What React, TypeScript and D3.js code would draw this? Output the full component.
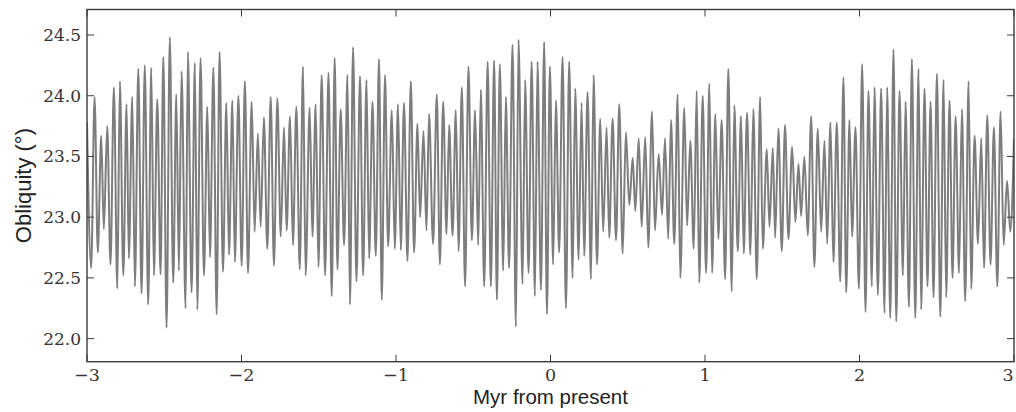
import React from "react";
import * as d3 from "d3";

// Times of successive obliquity maxima/minima (kyr relative to present)
const timesKyr: number[] = [
  -3000,-2973,-2951,-2930,-2908,-2891,-2869,-2848,-2826,-2804,
  -2787,-2765,-2744,-2729,-2707,-2690,-2668,-2647,-2626,-2604,
  -2584,-2567,-2545,-2524,-2506,-2485,-2464,-2442,-2422,-2405,
  -2388,-2362,-2347,-2323,-2302,-2286,-2265,-2243,-2221,-2204,
  -2182,-2161,-2142,-2120,-2098,-2081,-2059,-2043,-2020,-1999,
  -1978,-1958,-1934,-1915,-1894,-1876,-1855,-1833,-1811,-1790,
  -1768,-1746,-1725,-1708,-1686,-1667,-1645,-1623,-1602,-1585,
  -1559,-1541,-1520,-1502,-1481,-1459,-1437,-1416,-1397,-1379,
  -1358,-1336,-1314,-1298,-1278,-1256,-1233,-1213,-1191,-1174,
  -1152,-1131,-1110,-1092,-1071,-1051,-1027,-1008,-987,-969,
  -948,-926,-904,-883,-861,-844,-822,-803,-786,-760,
  -736,-716,-695,-673,-656,-634,-613,-595,-574,-553,
  -531,-509,-488,-468,-451,-429,-407,-386,-365,-347,
  -328,-306,-289,-268,-246,-224,-207,-181,-164,-142,
  -122,-101,-84,-62,-41,-23,-4,17,35,56,
  78,100,121,143,160,182,201,218,240,262,
  279,301,322,341,363,380,402,424,445,467,
  488,510,532,549,571,590,613,633,657,676,
  700,722,741,762,780,801,823,840,866,884,
  905,927,946,963,985,1007,1028,1046,1067,1086,
  1108,1130,1151,1173,1190,1212,1233,1251,1272,1294,
  1313,1335,1357,1374,1400,1417,1439,1454,1475,1497,
  1518,1540,1564,1585,1605,1622,1643,1665,1687,1708,
  1730,1752,1773,1791,1812,1831,1853,1875,1896,1914,
  1935,1952,1974,1996,2017,2039,2058,2080,2097,2119,
  2140,2162,2179,2199,2220,2238,2259,2281,2298,2320,
  2339,2361,2382,2399,2421,2440,2460,2479,2501,2523,
  2544,2561,2583,2602,2622,2644,2663,2684,2706,2723,
  2745,2767,2788,2806,2827,2848,2870,2892,2913,2933,
  2955,2976,3000,
];

// Obliquity (degrees) at those times
const obliquityDeg: number[] = [
  23.78,22.58,23.99,22.71,23.67,22.90,23.75,22.61,24.07,22.41,
  24.12,22.52,23.93,22.66,23.99,22.43,24.22,22.37,24.25,22.28,
  24.23,22.52,23.97,22.53,24.32,22.09,24.48,22.46,24.01,22.56,
  24.20,22.25,24.36,22.38,24.27,22.24,24.31,22.52,23.91,22.67,
  24.23,22.20,24.36,22.55,23.94,22.69,23.96,22.63,24.00,22.60,
  24.12,22.54,23.95,22.88,23.69,22.92,23.82,22.74,23.99,22.60,
  23.98,22.84,23.74,22.89,23.83,22.77,23.91,22.57,24.24,22.52,
  23.90,22.84,23.93,22.59,24.17,22.52,24.19,22.35,24.31,22.57,
  23.89,22.77,24.17,22.28,24.40,22.47,24.16,22.52,24.13,22.66,
  23.95,22.68,24.30,22.32,24.17,22.76,23.88,22.74,23.93,22.73,
  23.94,22.64,24.12,22.71,23.77,23.00,23.71,22.89,23.85,22.78,
  24.01,22.61,23.95,22.86,23.76,22.85,23.88,22.72,24.07,22.43,
  24.24,22.81,23.88,22.77,24.05,22.43,24.28,22.43,24.29,22.32,
  24.26,22.56,23.99,22.58,24.42,22.10,24.46,22.45,24.13,22.54,
  24.28,22.35,24.28,22.40,24.44,22.20,24.24,22.61,23.96,22.71,
  24.32,22.25,24.28,22.50,24.06,22.65,23.94,22.68,24.03,22.49,
  24.17,22.61,23.81,22.88,23.74,22.83,23.81,22.81,23.93,22.70,
  23.70,23.10,23.49,23.05,23.65,22.92,23.66,22.75,23.87,22.89,
  23.52,23.02,23.65,22.82,23.80,22.78,24.01,22.50,23.90,22.93,
  23.63,22.74,24.04,22.46,24.00,22.54,24.10,22.54,23.85,22.82,
  23.80,22.49,24.22,22.39,23.92,22.72,23.83,22.70,23.86,22.69,
  23.89,22.49,23.99,22.74,23.56,22.92,23.57,22.83,23.73,22.72,
  23.76,22.82,23.58,22.96,23.44,23.01,23.50,22.85,23.83,22.59,
  23.73,22.88,23.63,22.78,23.78,22.63,23.78,22.47,24.15,22.38,
  23.80,22.84,23.74,22.41,24.26,22.22,24.04,22.43,24.07,22.36,
  24.06,22.21,24.07,22.17,24.38,22.14,24.04,22.52,23.95,22.26,
  24.30,22.17,24.22,22.24,24.06,22.43,23.95,22.34,24.18,22.18,
  24.13,22.34,23.96,22.50,23.83,22.54,23.89,22.31,24.12,22.41,
  23.67,22.78,23.65,22.58,23.84,22.61,23.74,22.43,23.87,22.77,
  23.30,22.88,23.65,
];

const xTicks: number[] = [-3, -2, -1, 0, 1, 2, 3];
const yTicks: number[] = [22.0, 22.5, 23.0, 23.5, 24.0, 24.5];
const xLabel = "Myr from present";
const yLabel = "Obliquity (°)";

const W = 1016;
const H = 412;
const L = 87, R = 1014, T = 9.5, B = 361.7;

export default function App() {
  const x = d3.scaleLinear().domain([-3, 3]).range([L, R]);
  const y = d3.scaleLinear().domain([21.81, 24.71]).range([B, T]);

  const data = timesKyr.map((t, i) => ({ t: t / 1000, v: obliquityDeg[i] }));
  const line = d3
    .line<{ t: number; v: number }>()
    .x((d) => x(d.t))
    .y((d) => y(d.v))
    .curve(d3.curveMonotoneX);

  const tickLen = 7;
  const fmtY = d3.format(".1f");
  const fmtX = (v: number) => (v < 0 ? "\u2212" + Math.abs(v) : String(v));
  const frame = "#3a3a3a";
  const serif = "'DejaVu Serif', serif";
  const sans = "'Liberation Sans', Arial, sans-serif";

  return (
    <svg
      width={W}
      height={H}
      style={{ position: "absolute", left: 0, top: 0, background: "#fff" }}
    >
      <defs>
        <clipPath id="plotClip">
          <rect x={L} y={T} width={R - L} height={B - T} />
        </clipPath>
      </defs>
      <rect x={0} y={0} width={W} height={H} fill="#fff" />
      <path
        d={line(data) || ""}
        fill="none"
        stroke="#7d7d7d"
        strokeWidth={2}
        strokeLinejoin="round"
        clipPath="url(#plotClip)"
      />
      {yTicks.map((v) => (
        <g key={"y" + v}>
          <line x1={L} x2={L + tickLen} y1={y(v)} y2={y(v)} stroke={frame} strokeWidth={1} />
          <line x1={R} x2={R - tickLen} y1={y(v)} y2={y(v)} stroke={frame} strokeWidth={1} />
          <text
            x={L - 6}
            y={y(v)}
            textAnchor="end"
            dominantBaseline="central"
            fontFamily={serif}
            fontSize={17}
            fill="#333"
          >
            {fmtY(v)}
          </text>
        </g>
      ))}
      {xTicks.map((v) => (
        <g key={"x" + v}>
          <line x1={x(v)} x2={x(v)} y1={B} y2={B - tickLen} stroke={frame} strokeWidth={1} />
          <line x1={x(v)} x2={x(v)} y1={T} y2={T + tickLen} stroke={frame} strokeWidth={1} />
          <text
            x={Math.min(x(v), W - 8)}
            y={B + 13}
            textAnchor="middle"
            dominantBaseline="central"
            fontFamily={serif}
            fontSize={17.5}
            fill="#333"
          >
            {fmtX(v)}
          </text>
        </g>
      ))}
      <rect x={L} y={T} width={R - L} height={B - T} fill="none" stroke={frame} strokeWidth={1.4} />
      <text
        x={(L + R) / 2}
        y={404}
        textAnchor="middle"
        fontFamily={sans}
        fontSize={20.5}
        fill="#222"
      >
        {xLabel}
      </text>
      <text
        transform={`translate(31, ${(T + B) / 2}) rotate(-90)`}
        textAnchor="middle"
        fontFamily={sans}
        fontSize={22}
        fill="#222"
      >
        {yLabel}
      </text>
    </svg>
  );
}
